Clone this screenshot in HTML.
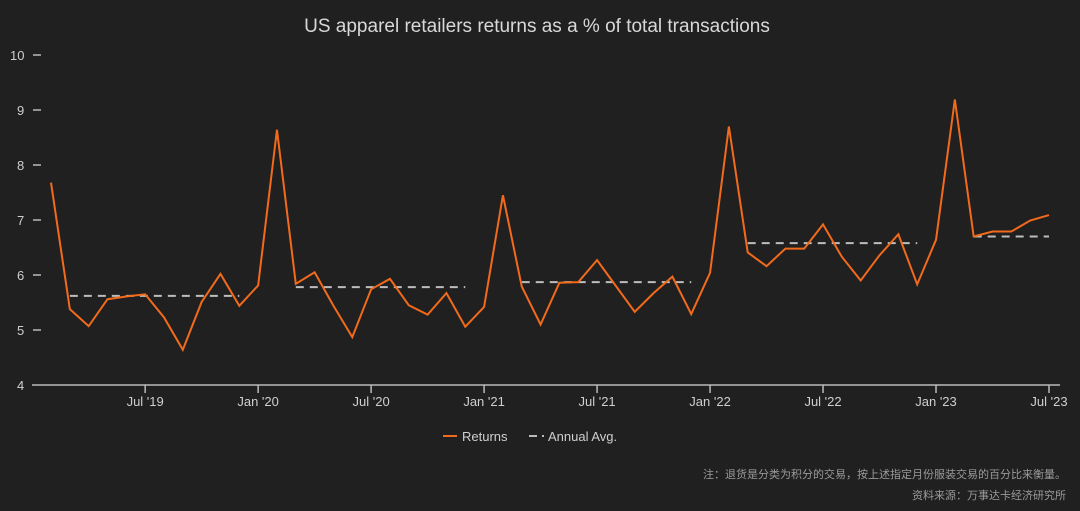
<!DOCTYPE html>
<html><head><meta charset="utf-8">
<style>
html,body{margin:0;padding:0;background:#202020;}
svg{display:block;font-family:"Liberation Sans","Noto Sans CJK SC",sans-serif;}
</style></head>
<body>
<svg id="chart" width="1080" height="511" viewBox="0 0 1080 511">
<rect width="1080" height="511" fill="#202020"/>
<text x="537" y="32" text-anchor="middle" font-size="19" fill="#d8d8d8">US apparel retailers returns as a % of total transactions</text>
<g id="yaxis"></g>
<g id="xaxis"></g>
<g id="avg"></g>
<g id="ret"></g>
<g>
<g>
<line x1="443" y1="436" x2="457" y2="436" stroke="#f26a1b" stroke-width="2"/>
<text x="462" y="441" font-size="13" fill="#cfcfcf">Returns</text></g>
<g>
<line x1="529" y1="436" x2="537" y2="436" stroke="#bbb" stroke-width="2"/>
<line x1="542" y1="436" x2="544" y2="436" stroke="#bbb" stroke-width="2"/>
<text x="548" y="441" font-size="13" fill="#cfcfcf">Annual Avg.</text></g>
</g>
<text x="1066" y="478" text-anchor="end" font-size="11" fill="#9a9a9a">注：退货是分类为积分的交易，按上述指定月份服装交易的百分比来衡量。</text>
<text x="1066" y="499" text-anchor="end" font-size="11" fill="#9a9a9a">资料来源：万事达卡经济研究所</text>
</svg>
<script>
const returnsValues=[7.68,5.38,5.07,5.56,5.61,5.65,5.23,4.64,5.51,6.02,5.44,
5.81,8.64,5.84,6.05,5.44,4.87,5.74,5.93,5.45,5.28,5.67,5.06,
5.42,7.45,5.79,5.10,5.86,5.87,6.27,5.80,5.33,5.67,5.97,5.29,
6.04,8.70,6.41,6.16,6.48,6.48,6.92,6.33,5.90,6.36,6.74,5.83,
6.64,9.19,6.70,6.79,6.79,6.99,7.09];
const avgYears=[2019,2020,2021,2022,2023];
const avgValues=[5.62,5.78,5.87,6.58,6.70];
const avgEndMonth=[12,12,12,12,7];
const yTicks=[4,5,6,7,8,9,10];
const xTickLabels=["Jul '19","Jan '20","Jul '20","Jan '21","Jul '21","Jan '22","Jul '22","Jan '23","Jul '23"];
const xTickIdx=[5,11,17,23,29,35,41,47,53];
const startYear=2019,startMonth=2;

const NS="http://www.w3.org/2000/svg";
const x=i=>51+i*(1049-51)/53;
const mIdx=(yr,m)=>(yr-startYear)*12+(m-startMonth);
const y=v=>385-(v-4)*55;
function mk(tag,attrs,parent){const e=document.createElementNS(NS,tag);for(const k in attrs)e.setAttribute(k,attrs[k]);parent.appendChild(e);return e;}
const ya=document.getElementById('yaxis'),xa=document.getElementById('xaxis');
yTicks.forEach(t=>{
 if(t>4){const l=mk('line',{x1:33,x2:41,y1:y(t),y2:y(t),stroke:'#bbb','stroke-width':1.5},ya);
 
 }
 const tx=mk('text',{x:t==10?10:17,y:y(t)+5,'font-size':13,fill:'#cfcfcf'},ya);tx.textContent=t;
 
 
});
const ax=mk('line',{x1:32,x2:1060,y1:385,y2:385,stroke:'#bbb','stroke-width':1.5},xa);


xTickIdx.forEach((idx,k)=>{
 const l=mk('line',{x1:x(idx),x2:x(idx),y1:385,y2:393,stroke:'#bbb','stroke-width':1.5},xa);
 
 
 const tx=mk('text',{x:x(idx),y:406,'font-size':13,fill:'#cfcfcf','text-anchor':'middle'},xa);tx.textContent=xTickLabels[k];
 
 
});
const ag=document.getElementById('avg');
avgYears.forEach((yr,k)=>{
 const l=mk('line',{x1:x(mIdx(yr,3)),x2:x(mIdx(yr,avgEndMonth[k])),y1:y(avgValues[k]),y2:y(avgValues[k]),stroke:'#bdbdbd','stroke-width':2,'stroke-dasharray':'8,6'},ag);
 
 
});
const rg=document.getElementById('ret');
const p=mk('polyline',{points:returnsValues.map((v,i)=>x(i)+','+y(v)).join(' '),fill:'none',stroke:'#f26a1b','stroke-width':2,'stroke-linejoin':'miter'},rg);


</script>
</body></html>
